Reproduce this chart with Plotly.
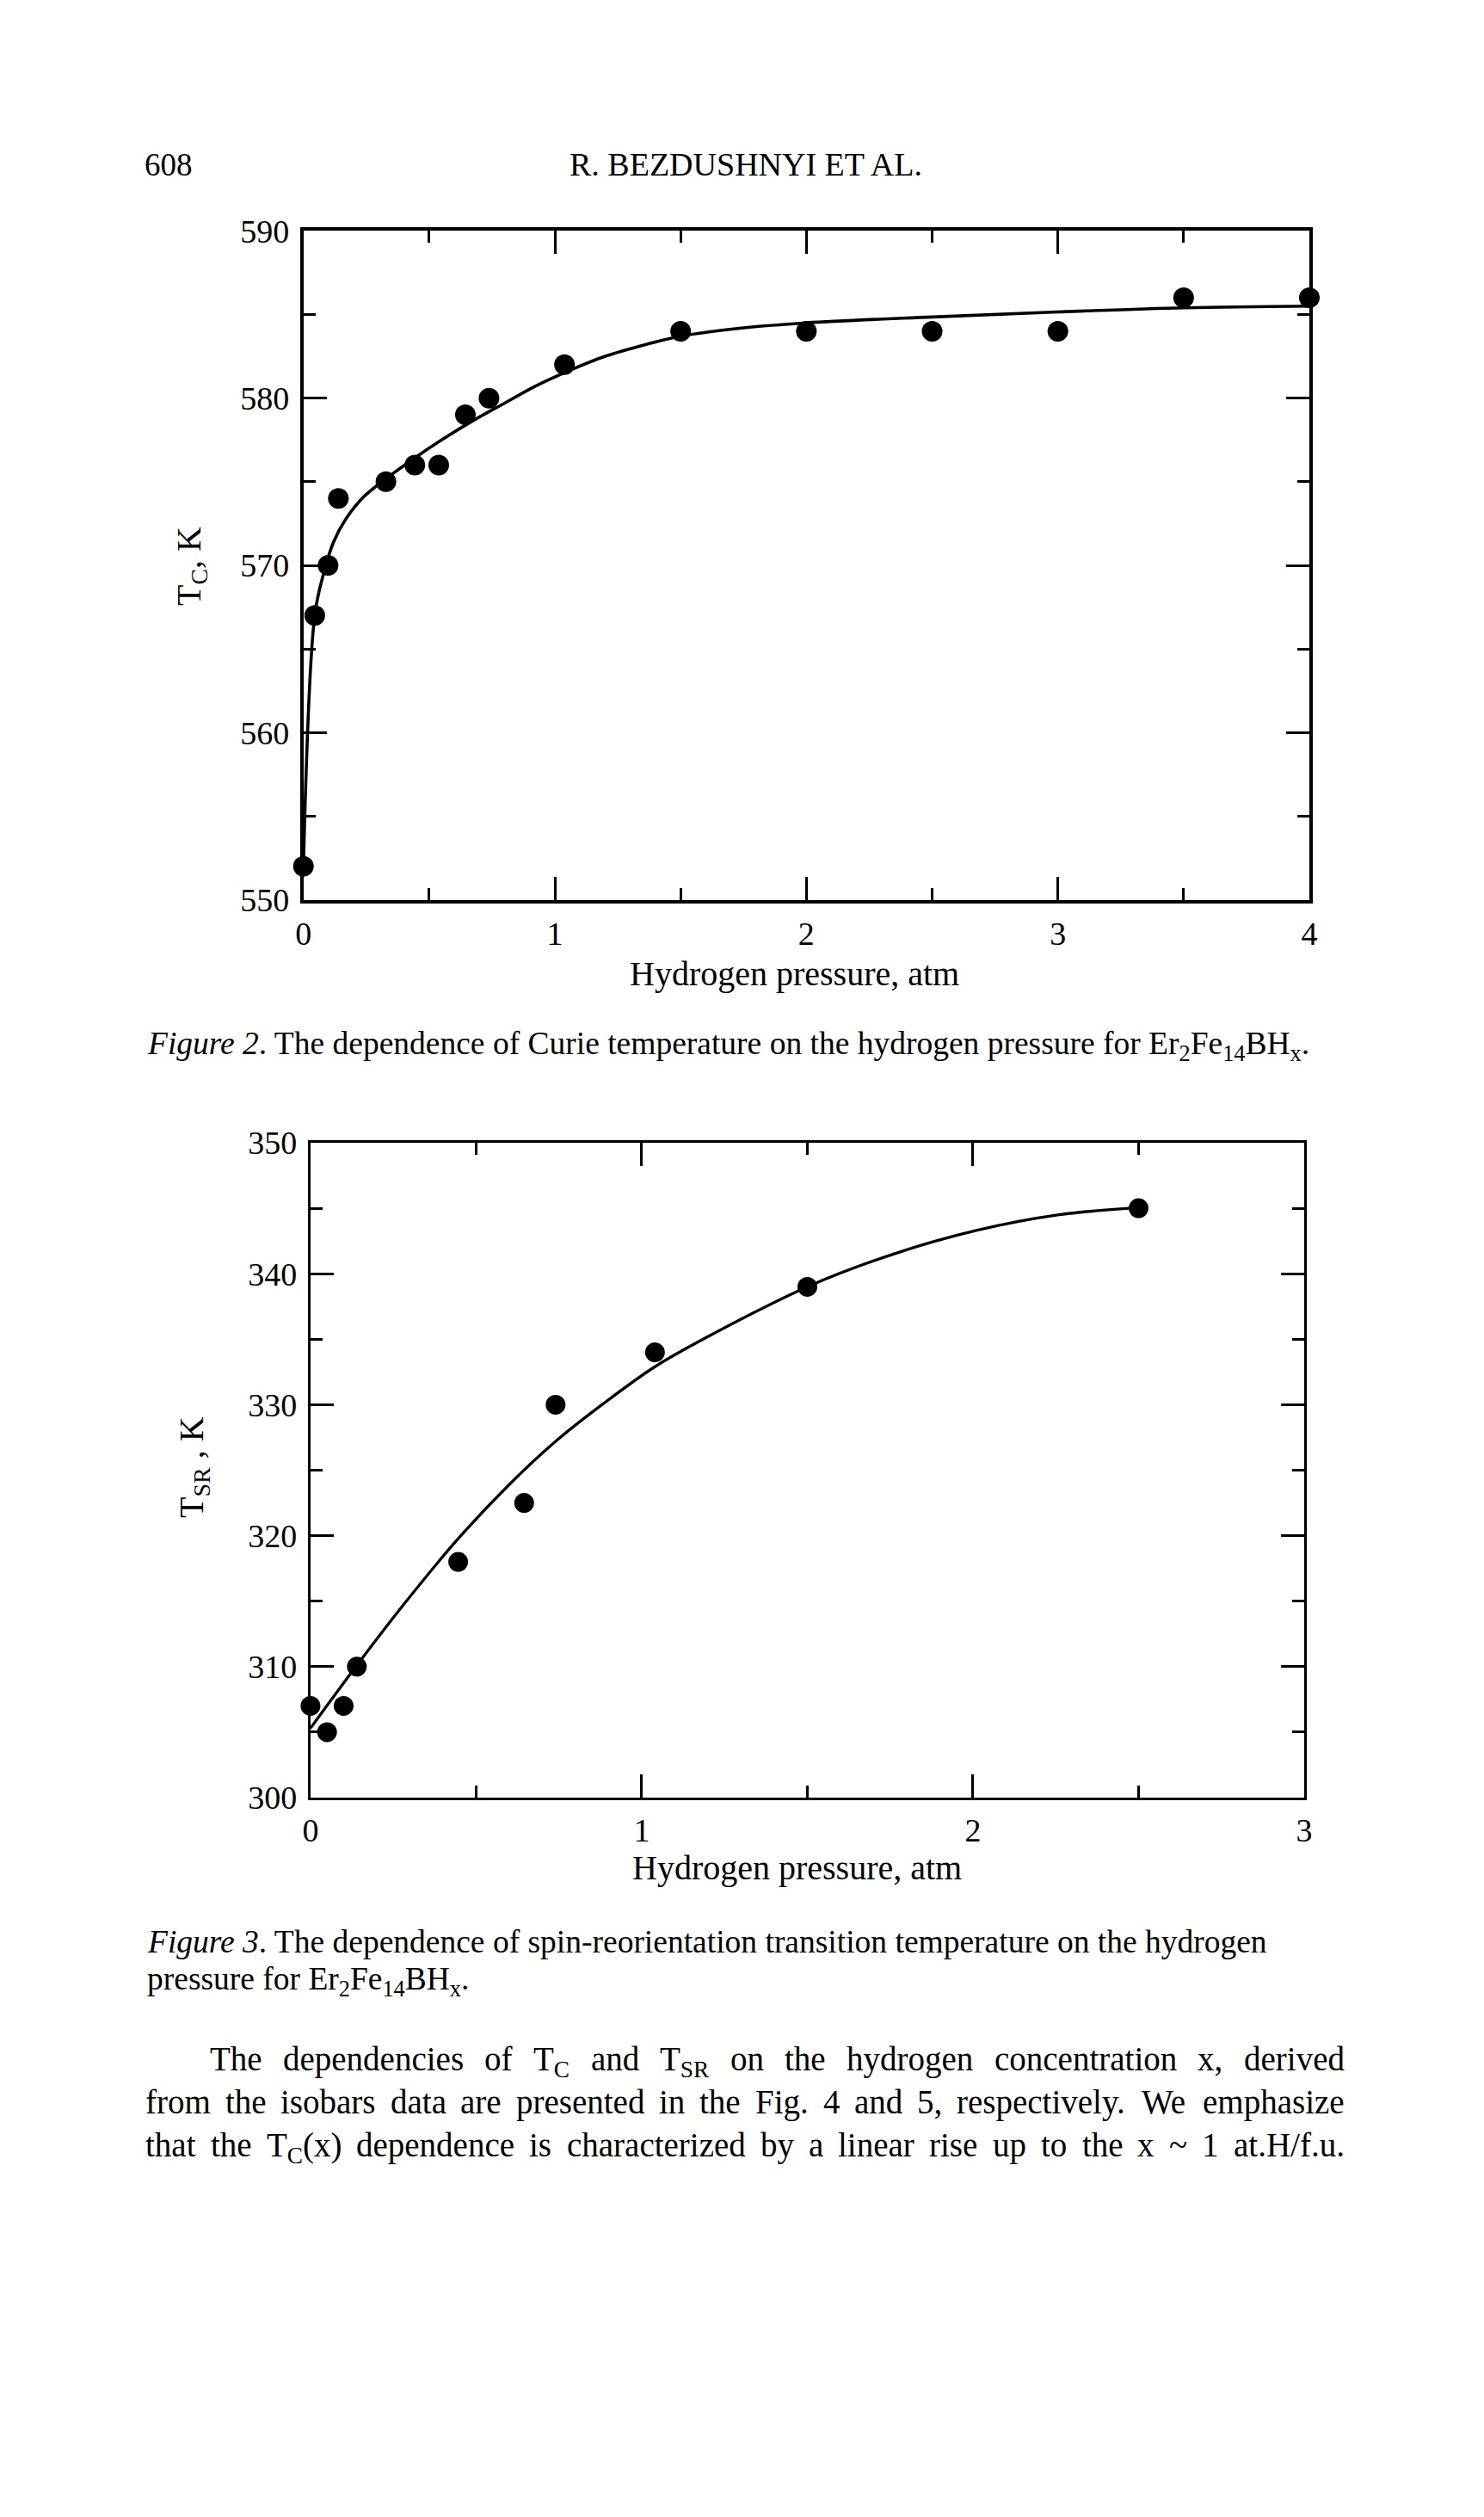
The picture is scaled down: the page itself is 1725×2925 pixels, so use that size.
import re
import plotly.graph_objects as go

# ---------------- data ----------------
# Figure 2: Curie temperature vs hydrogen pressure
tc_pressure = [0.0, 0.045, 0.098, 0.139, 0.328, 0.443, 0.538, 0.644, 0.738, 1.038, 1.5, 2.0, 2.5, 3.0, 3.5, 4.0]
tc_values = [552, 567, 570, 574, 575, 576, 576, 579, 580, 582, 584, 584, 584, 584, 586, 586]
tc_fit_x = [0.0, 0.045, 0.08, 0.12, 0.17, 0.24, 0.33, 0.45, 0.56, 0.68, 0.8, 0.92, 1.05, 1.2, 1.36, 1.5,
            1.75, 2.0, 2.5, 3.0, 3.5, 4.0]
tc_fit_y = [552.0, 567.0, 569.5, 571.4, 572.8, 574.1, 575.2, 576.5, 577.6, 578.7, 579.7, 580.7, 581.6, 582.5,
            583.2, 583.7, 584.2, 584.5, 584.85, 585.15, 585.4, 585.5]

# Figure 3: spin-reorientation temperature vs hydrogen pressure
tsr_pressure = [0.0, 0.05, 0.1, 0.14, 0.446, 0.645, 0.74, 1.04, 1.5, 2.5]
tsr_values = [307, 305, 307, 310, 318, 322.5, 330, 334, 339, 345]
tsr_fit_x = [0.0, 0.14, 0.28, 0.44, 0.6, 0.74, 0.88, 1.04, 1.2, 1.5, 1.76, 2.01, 2.26, 2.5]
tsr_fit_y = [305.3, 310.1, 314.7, 319.6, 323.9, 327.2, 330.0, 332.9, 335.2, 339.0, 341.5, 343.3, 344.5, 345.05]

x1_ticks = [0, 1, 2, 3, 4]
y1_ticks = [550, 560, 570, 580, 590]
x2_ticks = [0, 1, 2, 3]
y2_ticks = [300, 310, 320, 330, 340, 350]

# ---------------- page text ----------------
header_left = "608"
header_center = "R. BEZDUSHNYI ET AL."
x_title = "Hydrogen pressure, atm"
y1_title = "T<sub>C</sub>, K"
y2_title = "T<sub>SR</sub> , K"
caption2 = ("<i>Figure 2</i>. The dependence of Curie temperature on the hydrogen pressure for "
            "Er<sub>2</sub>Fe<sub>14</sub>BH<sub>x</sub>.")
caption3 = ["<i>Figure 3</i>. The dependence of spin-reorientation transition temperature on the hydrogen",
            "pressure for Er<sub>2</sub>Fe<sub>14</sub>BH<sub>x</sub>."]
body_lines = [
    "The dependencies of T<sub>C</sub> and T<sub>SR</sub> on the hydrogen concentration x, derived",
    "from the isobars data are presented in the Fig. 4 and 5, respectively. We emphasize",
    "that the T<sub>C</sub>(x) dependence is characterized by a linear rise up to the x ~ 1 at.H/f.u.",
]

# ---------------- layout helpers ----------------
# the page body keeps its default 8px margin, so the figure is made smaller than the window
OFF = 8
FW, FH = 1709, 2889
FONT = "Liberation Serif"


def px(x):
    return (x - OFF) / FW


def py(y):
    return 1 - (y - OFF) / FH


fig = go.Figure()

fig.add_trace(go.Scatter(x=tc_fit_x, y=tc_fit_y, mode="lines",
                         line=dict(color="black", width=3.6, shape="spline", smoothing=1.0),
                         xaxis="x", yaxis="y", showlegend=False, cliponaxis=False))
fig.add_trace(go.Scatter(x=tc_pressure, y=tc_values, mode="markers",
                         marker=dict(color="black", size=24, line=dict(width=0)),
                         xaxis="x", yaxis="y", showlegend=False, cliponaxis=False))
fig.add_trace(go.Scatter(x=tsr_fit_x, y=tsr_fit_y, mode="lines",
                         line=dict(color="black", width=3.3, shape="spline", smoothing=1.0),
                         xaxis="x2", yaxis="y2", showlegend=False, cliponaxis=False))
fig.add_trace(go.Scatter(x=tsr_pressure, y=tsr_values, mode="markers",
                         marker=dict(color="black", size=23, line=dict(width=0)),
                         xaxis="x2", yaxis="y2", showlegend=False, cliponaxis=False))


def axis(domain, rng, tickvals, minor_dtick, anchor, lw, standoff):
    return dict(
        domain=domain, range=rng, anchor=anchor, automargin=False,
        tickvals=tickvals, ticks="inside", ticklen=27, tickwidth=3, tickcolor="black",
        minor=dict(dtick=minor_dtick, ticks="inside", ticklen=14, tickwidth=3,
                   tickcolor="black", showgrid=False),
        showline=True, linecolor="black", linewidth=lw, mirror="ticks",
        showgrid=False, zeroline=False,
        tickfont=dict(family=FONT, size=38, color="black"),
        ticklabelstandoff=standoff,
    )


fig.update_layout(
    template="none",
    width=FW, height=FH, autosize=False,
    margin=dict(l=0, r=0, t=0, b=0, pad=0, autoexpand=False),
    paper_bgcolor="white", plot_bgcolor="white",
    font=dict(family=FONT, color="black"),
    xaxis=axis([px(352.7), px(1522)], [0, 4], x1_ticks, 0.5, "y", 3.6, 3),
    yaxis=axis([py(1045.7), py(268.3)], [550, 590], y1_ticks, 5, "x", 3.6, 5),
    xaxis2=axis([px(360.9), px(1516)], [0, 3], x2_ticks, 0.5, "y2", 3, 2),
    yaxis2=axis([py(2089), py(1328)], [300, 350], y2_ticks, 5, "x2", 3, 5),
)

annotations = []
ASC = 0.891


def text(x, baseline, s, size, xanchor="left"):
    annotations.append(dict(
        x=px(x), y=py(baseline - ASC * size), xref="paper", yref="paper", text=s, showarrow=False,
        xanchor=xanchor, yanchor="top", borderpad=0,
        font=dict(family=FONT, size=size, color="black"),
    ))


def vtext(x, y, s, size):
    annotations.append(dict(
        x=px(x), y=py(y), xref="paper", yref="paper", text=s, showarrow=False,
        xanchor="center", yanchor="middle", textangle=-90, borderpad=0,
        font=dict(family=FONT, size=size, color="black"),
    ))


# Times-compatible advance widths (per em) for justification
CW = dict(zip("abcdefghijklmnopqrstuvwxyz",
              [.444, .5, .444, .5, .444, .333, .5, .5, .278, .278, .5, .278, .778, .5, .5, .5, .5, .333,
               .389, .278, .5, .5, .722, .5, .5, .444]))
CW.update(dict(zip("ABCDEFGHIJKLMNOPQRSTUVWXYZ",
                   [.722, .667, .667, .722, .611, .556, .722, .722, .333, .389, .722, .611, .889, .722, .722,
                    .556, .722, .667, .556, .611, .722, .722, .944, .722, .722, .611])))
CW.update({c: .5 for c in "0123456789"})
CW.update({".": .25, ",": .25, "(": .333, ")": .333, "/": .278, "~": .541, "-": .333, " ": .25})


def width(s, size):
    w = 0.0
    for part in re.split(r"(<sub>.*?</sub>)", s):
        if part.startswith("<sub>"):
            w += sum(CW.get(c, .5) for c in part[5:-6]) * size * 0.7
        else:
            w += sum(CW.get(c, .5) for c in part) * size
    return w


def justified(line, left, right, baseline, size):
    words = line.split(" ")
    total = sum(width(wd, size) for wd in words)
    gap = (right - left - total) / (len(words) - 1)
    x = left
    for wd in words:
        text(x, baseline, wd, size)
        x += width(wd, size) + gap


# header
text(167, 203, header_left, 37)
text(867, 203, header_center, 38, "center")

# figure 2 labels
text(924, 1144, x_title, 40, "center")
vtext(222, 658, y1_title, 40)
text(170, 1224, caption2, 37.5)

# figure 3 labels
text(927, 2183, x_title, 40, "center")
vtext(225, 1705, y2_title, 40)
text(170, 2268, caption3[0], 37.5)
text(170, 2311, caption3[1], 37.5)

# body text (justified)
BODY = 39
justified(body_lines[0], 243, 1562, 2405, BODY)
justified(body_lines[1], 168, 1562, 2455, BODY)
justified(body_lines[2], 168, 1562, 2505, BODY)

fig.update_layout(annotations=annotations)

fig.write_html("out.html", config={"displayModeBar": False})
